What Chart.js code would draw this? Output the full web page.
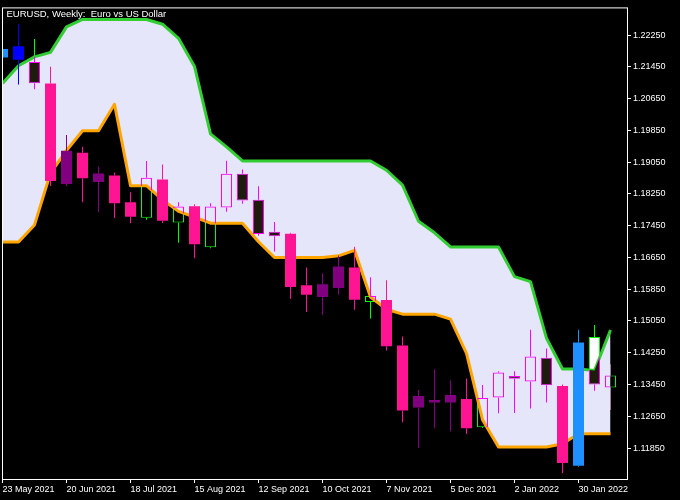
<!DOCTYPE html>
<html>
<head>
<meta charset="utf-8">
<script src="https://cdn.jsdelivr.net/npm/chart.js@4.4.1/dist/chart.umd.min.js"></script>
<style>
html,body{margin:0;padding:0;background:#000;}
#wrap{width:680px;height:500px;position:relative;}
</style>
</head>
<body>
<div id="wrap"><canvas id="c"></canvas></div>
<script>
// ---------- data ----------
const chartTitle = 'EURUSD, Weekly:  Euro vs US Dollar';
const weeks = ['23 May 2021','30 May 2021','6 Jun 2021','13 Jun 2021','20 Jun 2021','27 Jun 2021','4 Jul 2021','11 Jul 2021','18 Jul 2021','25 Jul 2021','1 Aug 2021','8 Aug 2021','15 Aug 2021','22 Aug 2021','29 Aug 2021','5 Sep 2021','12 Sep 2021','19 Sep 2021','26 Sep 2021','3 Oct 2021','10 Oct 2021','17 Oct 2021','24 Oct 2021','31 Oct 2021','7 Nov 2021','14 Nov 2021','21 Nov 2021','28 Nov 2021','5 Dec 2021','12 Dec 2021','19 Dec 2021','26 Dec 2021','2 Jan 2022','9 Jan 2022','16 Jan 2022','23 Jan 2022','30 Jan 2022','6 Feb 2022','13 Feb 2022'];
const open  = [1.21685,1.21969,1.21570,1.21030,1.18498,1.19287,1.18547,1.18714,1.18042,1.17651,1.18615,1.17527,1.17942,1.16904,1.17910,1.18757,1.18104,1.17295,1.17245,1.15950,1.15652,1.15883,1.16399,1.15527,1.15577,1.14431,1.12870,1.12995,1.12995,1.13087,1.12372,1.13124,1.13667,1.13528,1.14125,1.13411,1.11401,1.14648,1.13373];
const high  = [1.21901,1.22524,1.22150,1.21453,1.19735,1.19436,1.18938,1.18789,1.18291,1.19080,1.18988,1.18042,1.17992,1.18017,1.19088,1.18864,1.18440,1.17544,1.17270,1.16399,1.16249,1.16697,1.16921,1.16150,1.16075,1.14656,1.13311,1.13834,1.13560,1.13602,1.13435,1.13784,1.13784,1.14830,1.14357,1.13453,1.14830,1.14947,1.13951];
const low   = [1.21685,1.21005,1.20888,1.18448,1.18448,1.18042,1.17793,1.17644,1.17512,1.17601,1.17519,1.17021,1.16630,1.16879,1.17800,1.18000,1.17195,1.16797,1.15609,1.15278,1.15203,1.15709,1.15335,1.15111,1.14307,1.12497,1.11849,1.12347,1.12273,1.12203,1.12357,1.12726,1.12731,1.12845,1.12995,1.11212,1.11376,1.13294,1.12805];
const close = [1.21901,1.21628,1.21037,1.18572,1.19337,1.18647,1.18764,1.18017,1.17676,1.18657,1.17576,1.17935,1.16979,1.17935,1.18757,1.18084,1.17238,1.17183,1.15908,1.15709,1.15975,1.16423,1.15584,1.15676,1.14414,1.12796,1.13162,1.13062,1.13186,1.12347,1.13112,1.13752,1.13592,1.14158,1.13428,1.11476,1.14506,1.13448,1.13677];
// position of each bar relative to the band: A = above, B = below, I = inside
const zone = ['A','A','I','B','B','B','B','B','B','I','B','I','B','I','I','I','I','I','B','B','B','B','B','I','B','B','B','B','B','B','I','I','I','I','I','B','A','I','I'];
const upperBand = [1.21030,1.21478,1.21702,1.21814,1.22457,1.22643,1.22643,1.22643,1.22643,1.22643,1.22524,1.22168,1.21461,1.19760,1.19436,1.19080,1.19080,1.19080,1.19080,1.19080,1.19080,1.19080,1.19080,1.19080,1.18846,1.18473,1.17561,1.17270,1.16914,1.16914,1.16914,1.16914,1.16167,1.16042,1.14613,1.13841,1.13841,1.13801,1.14822];
const lowerBand = [1.17038,1.17038,1.17469,1.18776,1.19344,1.19842,1.19842,1.20507,1.18458,1.18458,1.18099,1.17810,1.17668,1.17512,1.17512,1.17512,1.17046,1.16648,1.16648,1.16648,1.16648,1.16690,1.16829,1.15652,1.15345,1.15221,1.15221,1.15221,1.15096,1.14232,1.12564,1.11874,1.11874,1.11874,1.11874,1.11959,1.12208,1.12208,1.12208];
const yTicks = [1.22250,1.21450,1.20650,1.19850,1.19050,1.18250,1.17450,1.16650,1.15850,1.15050,1.14250,1.13450,1.12650,1.11850];
const xTickEvery = 4;

// ---------- styles ----------
const ids = weeks.map((_, i) => i);
const isBull = i => close[i] >= open[i];
const baseStyle = i => ({wick:'#00FF00', edge:'#00FF00', fill: isBull(i) ? '#000000' : '#FFFFFF', bw:1});
const bandStyle = i => ({wick:'#FF00FF', edge:'#FF00FF', fill: isBull(i) ? 'rgba(0,0,0,0)' : '#1E1B0C', bw:1});
const zoneStyle = i => {
  const c = zone[i] === 'A' ? (isBull(i) ? '#1E90FF' : '#0000FF') : (isBull(i) ? '#800080' : '#FF1493');
  return {wick:c, edge:c, fill:c, bw:0};
};

function candleSet(include, styleOf, ord, clip) {
  const sel = ids.filter(include);
  const common = {type:'bar', grouped:false, inflateAmount:0, borderSkipped:false, clipToBand:clip};
  const wick = f => ({...common, order: ord + 1, barThickness: 1, borderWidth: 0,
    data: sel.map(i => ({x: i, y: f(i)})),
    backgroundColor: c => c.raw ? styleOf(c.raw.x).wick : 'rgba(0,0,0,0)'});
  return [
    wick(i => [Math.max(open[i], close[i]), high[i]]),
    wick(i => [low[i], Math.min(open[i], close[i])]),
    {...common, order: ord, barThickness: 11,
      data: sel.map(i => ({x: i, y: [open[i], close[i]]})),
      borderWidth: c => c.raw ? styleOf(c.raw.x).bw : 0,
      backgroundColor: c => c.raw ? styleOf(c.raw.x).fill : 'rgba(0,0,0,0)',
      borderColor: c => c.raw ? styleOf(c.raw.x).edge : 'rgba(0,0,0,0)'}
  ];
}
const pts = arr => arr.map((v, i) => ({x: i, y: v}));

const datasets = [
  ...candleSet(i => zone[i] === 'I', baseStyle, 30, false),
  {type:'line', label:'bandTop', data: pts(upperBand), borderWidth:0, borderColor:'rgba(0,0,0,0)', pointRadius:0, backgroundColor:'#E6E6FA', order:20, fill:false},
  {type:'line', label:'bandBottom', data: pts(lowerBand), borderWidth:0, borderColor:'rgba(0,0,0,0)', pointRadius:0, order:20, fill:false},
  {type:'line', label:'upper', data: pts(upperBand), borderWidth:3, borderColor:'#32CD32', borderJoinStyle:'round', pointRadius:0, order:15, fill:false},
  {type:'line', label:'lower', data: pts(lowerBand), borderWidth:3, borderColor:'#FFA500', borderJoinStyle:'round', pointRadius:0, order:15, fill:false},
  ...candleSet(i => zone[i] === 'I', bandStyle, 10, true),
  ...candleSet(i => zone[i] !== 'I', zoneStyle, 0, false)
];
const topIdx = datasets.findIndex(d => d.label === 'bandTop');
const botIdx = datasets.findIndex(d => d.label === 'bandBottom');
datasets[topIdx].fill = {target: botIdx};

// clip "inside band" candles to the band polygon
const bandClip = {
  id: 'bandClip',
  beforeDatasetDraw(chart, args) {
    if (!chart.data.datasets[args.index].clipToBand) return;
    const up = chart.getDatasetMeta(topIdx).data, lo = chart.getDatasetMeta(botIdx).data;
    const ctx = chart.ctx;
    ctx.save();
    ctx.beginPath();
    up.forEach((p, k) => k ? ctx.lineTo(p.x, p.y) : ctx.moveTo(p.x, p.y));
    for (let k = lo.length - 1; k >= 0; k--) ctx.lineTo(lo[k].x, lo[k].y);
    ctx.closePath();
    ctx.clip();
  },
  afterDatasetDraw(chart, args) {
    if (chart.data.datasets[args.index].clipToBand) chart.ctx.restore();
  }
};
const frame = {
  id: 'frame',
  afterDraw(chart) {
    const {ctx, chartArea: a} = chart;
    ctx.save();
    ctx.strokeStyle = '#FFFFFF';
    ctx.lineWidth = 1;
    ctx.strokeRect(a.left + 0.5, a.top + 0.5, a.right - a.left, a.bottom - a.top);
    ctx.fillStyle = '#FFFFFF';
    ctx.font = '9.5px "Liberation Sans"';
    ctx.textBaseline = 'top';
    ctx.textAlign = 'left';
    ctx.fillText(chartTitle, a.left + 4.5, a.top + 2);
    ctx.restore();
  }
};

Chart.defaults.font.family = '"Liberation Sans"';
new Chart(document.getElementById('c'), {
  type: 'bar',
  data: {datasets},
  plugins: [bandClip, frame],
  options: {
    responsive: true,
    maintainAspectRatio: false,
    devicePixelRatio: 1,
    animation: false,
    events: [],
    layout: {padding: {left: 2, top: 2, right: 0, bottom: 0}},
    plugins: {legend: {display: false}, tooltip: {enabled: false}, title: {display: false}},
    scales: {
      x: {
        type: 'linear', offset: false, min: -0.03125, max: 39.03125,
        afterBuildTicks: s => { s.ticks = ids.filter(i => i % xTickEvery === 0).map(i => ({value: i})); },
        afterFit: s => { s.height = 21; },
        border: {display: false},
        grid: {display: true, drawOnChartArea: false, drawTicks: true, tickLength: 4, color: '#FFFFFF', offset: false},
        ticks: {color: '#FFFFFF', font: {size: 9}, align: 'start', maxRotation: 0, autoSkip: false, padding: 1,
          callback: v => weeks[v]}
      },
      y: {
        type: 'linear', position: 'right', min: 1.11070, max: 1.22947,
        afterBuildTicks: s => { s.ticks = yTicks.map(v => ({value: v})); },
        afterFit: s => { s.width = 53; },
        border: {display: false},
        grid: {display: true, drawOnChartArea: false, drawTicks: true, tickLength: 4, color: '#FFFFFF'},
        ticks: {color: '#FFFFFF', font: {size: 9}, padding: 2, callback: v => Number(v).toFixed(5)}
      }
    }
  }
});
</script>
</body>
</html>
